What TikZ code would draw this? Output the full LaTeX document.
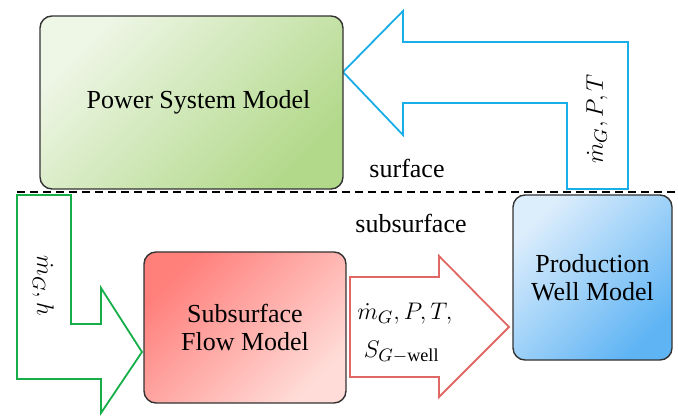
\documentclass[tikz,border=0pt]{standalone}
\usepackage{fontspec}
\setmainfont{Liberation Serif}
\usetikzlibrary{calc}
\definecolor{pwrlight}{HTML}{EEF6E6}
\definecolor{pwrdark}{HTML}{B2D98A}
\definecolor{sublight}{HTML}{FFDCD8}
\definecolor{subdark}{HTML}{FF7F7B}
\definecolor{welllight}{HTML}{DCEDFC}
\definecolor{welldark}{HTML}{5FB4F4}
\definecolor{bluearrow}{HTML}{1AAEE8}
\definecolor{greenarrow}{HTML}{16AE48}
\definecolor{redarrow}{HTML}{E06864}
\tikzset{
    model/.style={draw=black!80, line width=0.7pt, rounded corners=6pt, inner sep=0pt, align=center, font=\fontsize{13}{14}\selectfont},
    flow/.style={line width=0.9pt, fill=white, line join=miter},
    zone/.style={font=\fontsize{13}{14}\selectfont},
    flowlabel/.style={font=\fontsize{13}{16}\selectfont, align=left, inner sep=0pt},
}

\begin{document}
\begin{tikzpicture}[x=0.5pt, y=-0.5pt]
    \useasboundingbox (0,0) rectangle (678,416);
    % block arrows
    \draw[flow, draw=bluearrow] (343,72) -- (403,11) -- (403,42) -- (628,42) -- (628,189) -- (567,189) -- (567,103) -- (403,103) -- (403,135) -- cycle;
    \draw[flow, draw=greenarrow] (17,195) -- (71,195) -- (71,324) -- (101,324) -- (101,288) -- (142,352) -- (101,413) -- (101,379) -- (17,379) -- cycle;
    \draw[flow, draw=redarrow] (350,277) -- (439,277) -- (439,256) -- (509,327) -- (439,397) -- (439,377) -- (350,377) -- cycle;
    % ground level
    \coordinate (gl) at (17,192);
    \coordinate (gr) at (678,192);
    \draw[line width=1pt, dash pattern=on 4pt off 2.5pt] (gl) -- (gr);
    \node[zone] (surf) at (407,168) {surface};
    \node[zone] (subsurf) at (411,223) {subsurface};
    % models
    \node[model, minimum width=151.5pt, minimum height=86.5pt, top color=pwrlight, bottom color=pwrdark, shading angle=45] (psm) at (191.5,102.5) {\hspace{7pt}Power System Model};
    \node[model, minimum width=101pt, minimum height=75.5pt, top color=subdark, bottom color=sublight, shading angle=45] (sfm) at (245,327.5) {Subsurface\\Flow Model};
    \node[model, minimum width=79.5pt, minimum height=82.5pt, top color=welllight, bottom color=welldark, shading angle=45] (pwm) at (592.5,277.5) {Production\\Well Model};
    % exchanged quantities
    \node[flowlabel, rotate=90] (toPower) at (597,119) {$\dot{m}_G, P, T$};
    \node[flowlabel, rotate=-90] (toFlow) at (43,286) {$\dot{m}_G, h$};
    \node[flowlabel] (toWell) at (405,333) {$\dot{m}_G, P, T,$\\[3pt]\ $S_{G-\mathrm{well}}$};
\end{tikzpicture}
\end{document}
